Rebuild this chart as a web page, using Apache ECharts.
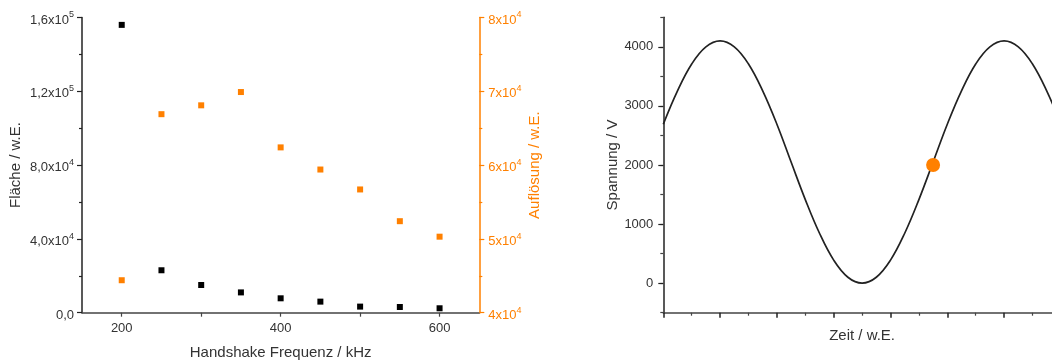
<!DOCTYPE html>
<html>
<head>
<meta charset="utf-8">
<script src="https://cdn.jsdelivr.net/npm/echarts@6/dist/echarts.min.js"></script>
<style>
html,body{margin:0;padding:0;background:#fff;overflow:hidden;}
#c{width:1052px;height:360px;}
</style>
</head>
<body>
<div id="c"></div>
<script>
// ---- data ----
var freq = [200, 250, 300, 350, 400, 450, 500, 550, 600];
var flaeche = [156000, 23000, 15000, 11000, 7800, 6000, 3300, 3100, 2400];
var aufloesung = [44400, 66900, 68100, 69900, 62400, 59400, 56700, 52400, 50300];
var zeit = [0, 0.25, 0.5, 0.75, 1, 1.25, 1.5, 1.75, 2, 2.25, 2.5, 2.75, 3, 3.25, 3.5, 3.75, 4, 4.25, 4.5, 4.75, 5, 5.25, 5.5, 5.75, 6, 6.25, 6.5, 6.75, 7];
var spannung = [2690, 3255, 3710, 4000, 4100, 4000, 3710, 3255, 2690, 2050, 1415, 845, 390, 100, 0, 100, 390, 845, 1415, 2050, 2690, 3255, 3710, 4000, 4100, 4000, 3710, 3255, 2690];
var punkt = [[4.75, 2000]];
var freqTicks = [200, 300, 400, 500, 600];
var freqLabels = [200, 400, 600];
var voltLabels = [0, 1000, 2000, 3000, 4000];

var FONT = 'Liberation Sans, Arial, sans-serif';
var ORANGE = '#FF8000';
var DARK = '#222';
var LABEL = '#333';

function sci(v, dec) {
  if (v === 0) return '{b|' + (dec ? '0,0' : '0') + '}';
  var e = Math.floor(Math.log10(v) + 1e-9);
  var m = v / Math.pow(10, e);
  var s = dec ? m.toFixed(1).replace('.', ',') : m.toFixed(0);
  return '{b|' + s + 'x10}{s|' + e + '}';
}
function rich(color) {
  return {
    b: {fontFamily: FONT, fontSize: 13, color: color, lineHeight: 18, verticalAlign: 'bottom'},
    s: {fontFamily: FONT, fontSize: 9, color: color, lineHeight: 18, verticalAlign: 'bottom', padding: [0, 0, 7, 0]}
  };
}

var chart = echarts.init(document.getElementById('c'), null, {renderer: 'canvas'});
var option = {
  animation: false,
  backgroundColor: '#fff',
  textStyle: {fontFamily: FONT},
  grid: [
    {left: 82, top: 17.5, width: 397.3, height: 295.2, containLabel: false, outerBoundsMode: 'none'},
    {left: 663.3, top: 17.3, width: 397.6, height: 295.4, containLabel: false, outerBoundsMode: 'none'}
  ],
  xAxis: [
    {
      gridIndex: 0, type: 'value', min: 150, max: 650,
      name: 'Handshake Frequenz / kHz', nameLocation: 'middle', nameGap: 33,
      nameTextStyle: {fontFamily: FONT, fontSize: 15, color: LABEL},
      axisLine: {onZero: false, lineStyle: {color: '#444', width: 1.5}},
      axisTick: {customValues: freqTicks, length: 4, lineStyle: {color: '#444', width: 1.2}},
      axisLabel: {customValues: freqLabels, fontFamily: FONT, fontSize: 13, color: LABEL, margin: 9},
      splitLine: {show: false}
    },
    {
      gridIndex: 1, type: 'value', min: 0, max: 7, interval: 1,
      name: 'Zeit / w.E.', nameLocation: 'middle', nameGap: 16,
      nameTextStyle: {fontFamily: FONT, fontSize: 15, color: LABEL},
      axisLine: {onZero: false, lineStyle: {color: '#444', width: 1.5}},
      axisTick: {length: 5, lineStyle: {color: '#222', width: 1.5}},
      minorTick: {show: true, splitNumber: 2, length: 3, lineStyle: {color: '#444', width: 1.2}},
      axisLabel: {show: false},
      splitLine: {show: false}
    }
  ],
  yAxis: [
    {
      gridIndex: 0, type: 'value', min: 0, max: 160000, interval: 40000, position: 'left',
      name: 'Fläche / w.E.', nameLocation: 'middle', nameGap: 59,
      nameTextStyle: {fontFamily: FONT, fontSize: 15, color: LABEL},
      axisLine: {show: true, onZero: false, lineStyle: {color: DARK, width: 1.5}},
      axisTick: {show: true, length: 5, lineStyle: {color: DARK, width: 1.2}},
      minorTick: {show: true, splitNumber: 2, length: 3, lineStyle: {color: DARK, width: 1.2}},
      axisLabel: {margin: 8, formatter: function (v) { return sci(v, true); }, rich: rich(LABEL)},
      splitLine: {show: false}
    },
    {
      gridIndex: 0, type: 'value', min: 40000, max: 80000, interval: 10000, position: 'right',
      name: 'Auflösung / w.E.', nameLocation: 'middle', nameGap: 48,
      nameTextStyle: {fontFamily: FONT, fontSize: 15, color: ORANGE},
      axisLine: {show: true, onZero: false, lineStyle: {color: ORANGE, width: 1.5}},
      axisTick: {show: true, length: 5, lineStyle: {color: ORANGE, width: 1.2}},
      minorTick: {show: true, splitNumber: 2, length: 3, lineStyle: {color: ORANGE, width: 1.2}},
      axisLabel: {margin: 9, formatter: function (v) { return sci(v, false); }, rich: rich(ORANGE)},
      splitLine: {show: false}
    },
    {
      gridIndex: 1, type: 'value', min: -500, max: 4500, interval: 500, position: 'left',
      name: 'Spannung / V', nameLocation: 'middle', nameGap: 42,
      nameTextStyle: {fontFamily: FONT, fontSize: 15, color: LABEL},
      axisLine: {show: true, onZero: false, lineStyle: {color: DARK, width: 1.5}},
      axisTick: {show: true, length: 3, lineStyle: {color: '#444', width: 1.2}},
      axisLabel: {customValues: voltLabels, margin: 10, fontFamily: FONT, fontSize: 13, color: LABEL,
        formatter: function (v) { return String(v); }},
      splitLine: {show: false}
    },
    {
      gridIndex: 1, type: 'value', min: -500, max: 4500, position: 'left',
      axisLine: {show: false, onZero: false},
      axisTick: {show: true, customValues: voltLabels, length: 5, lineStyle: {color: DARK, width: 1.2}},
      axisLabel: {show: false},
      splitLine: {show: false}
    }
  ],
  series: [
    {
      type: 'scatter', xAxisIndex: 0, yAxisIndex: 0, symbol: 'rect', symbolSize: 6,
      itemStyle: {color: '#000', opacity: 1},
      data: freq.map(function (f, i) { return [f, flaeche[i]]; })
    },
    {
      type: 'scatter', xAxisIndex: 0, yAxisIndex: 1, symbol: 'rect', symbolSize: 6,
      itemStyle: {color: ORANGE, opacity: 1},
      data: freq.map(function (f, i) { return [f, aufloesung[i]]; })
    },
    {
      type: 'line', xAxisIndex: 1, yAxisIndex: 2, smooth: 0.4, showSymbol: false,
      lineStyle: {color: DARK, width: 1.7},
      data: zeit.map(function (t, i) { return [t, spannung[i]]; })
    },
    {
      type: 'scatter', xAxisIndex: 1, yAxisIndex: 2, symbol: 'circle', symbolSize: 14,
      itemStyle: {color: ORANGE, opacity: 1},
      data: punkt, z: 5
    }
  ]
};
chart.setOption(option);
</script>
</body>
</html>
